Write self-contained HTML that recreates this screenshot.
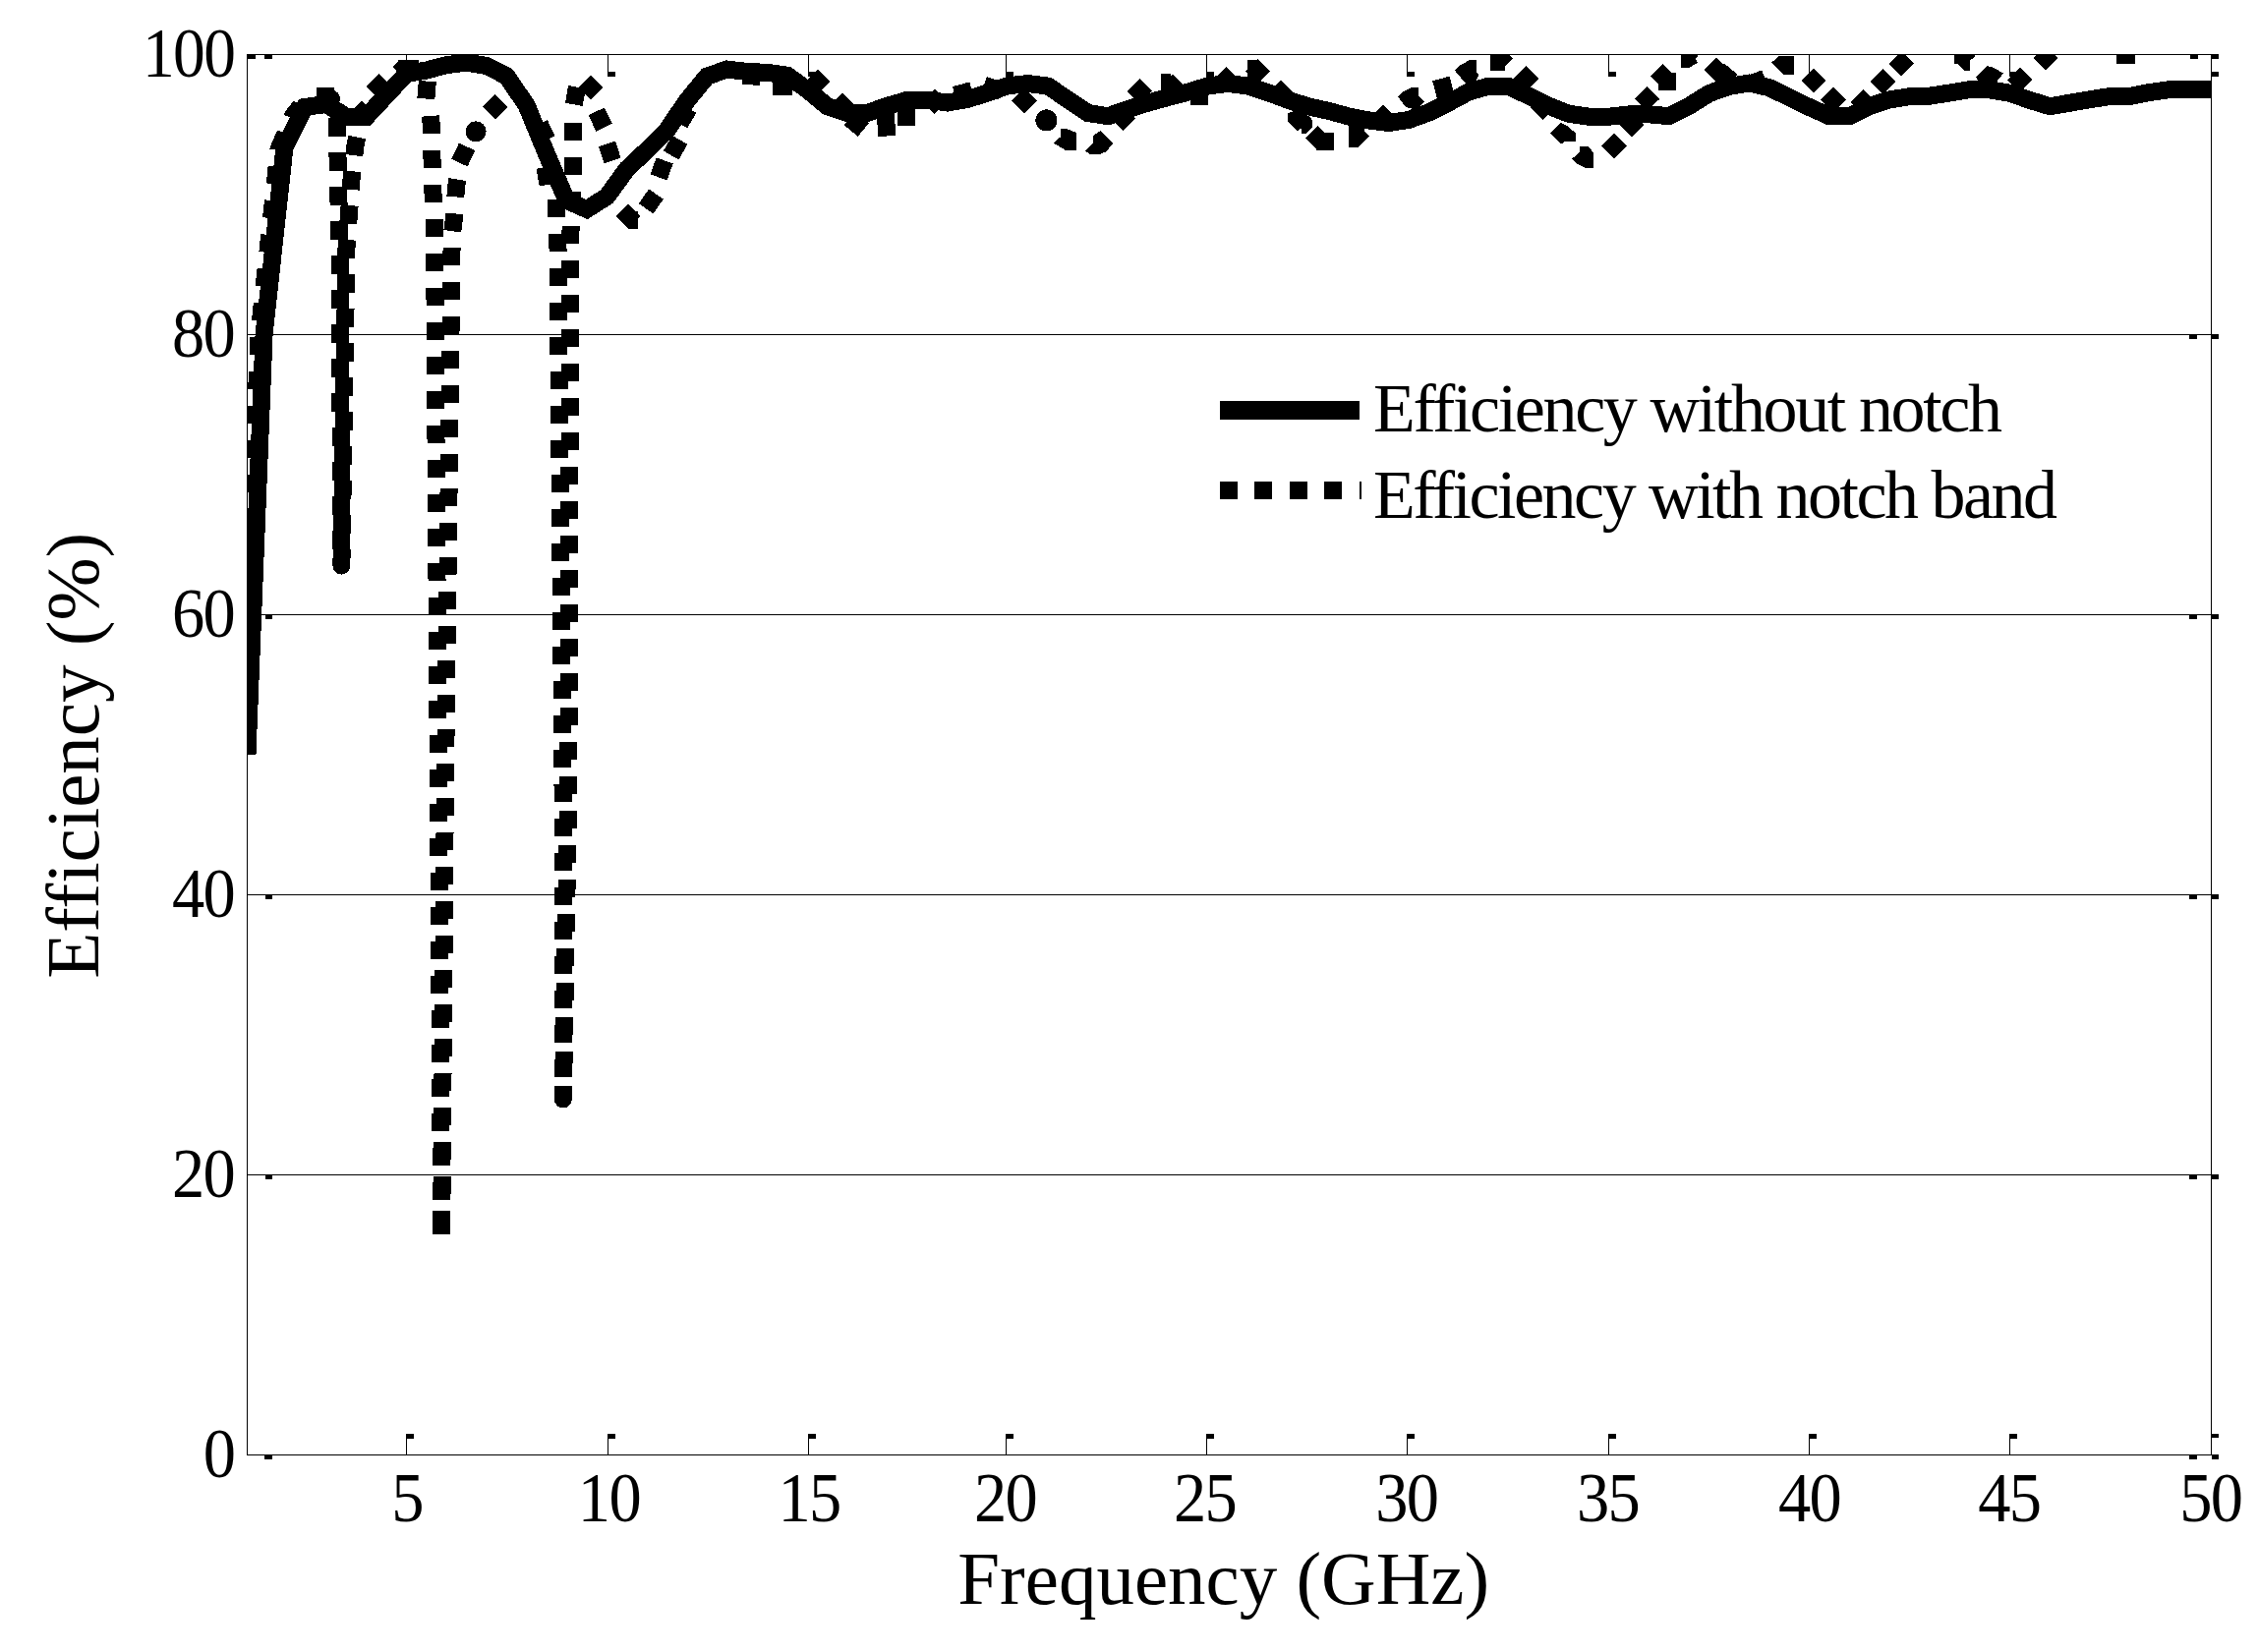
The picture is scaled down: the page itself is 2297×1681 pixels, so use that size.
<!DOCTYPE html>
<html lang="en"><head><meta charset="utf-8"><title>Efficiency vs Frequency</title>
<style>
html,body{margin:0;padding:0;background:#fff;}
body{width:2297px;height:1681px;overflow:hidden;}
svg{display:block;}
text{font-family:"Liberation Serif",serif;fill:#000;}
.tk{font-size:71.5px;letter-spacing:-1.8px;}
.ax{font-size:77px;}
.lg{font-size:70px;}
</style></head><body>
<svg width="2297" height="1681" viewBox="0 0 2297 1681">
<rect x="0" y="0" width="2297" height="1681" fill="#fff"/>
<defs><clipPath id="cp"><rect x="251.5" y="55.5" width="1998.0" height="1425.0"/></clipPath></defs>

<g stroke="#000" stroke-width="1" shape-rendering="crispEdges" fill="none">
<line x1="251.5" y1="1195.5" x2="2249.5" y2="1195.5"/>
<line x1="251.5" y1="910.5" x2="2249.5" y2="910.5"/>
<line x1="251.5" y1="625.5" x2="2249.5" y2="625.5"/>
<line x1="251.5" y1="340.5" x2="2249.5" y2="340.5"/>
</g>
<rect x="251.5" y="55.5" width="1998.0" height="1425.0" fill="none" stroke="#000" stroke-width="1" shape-rendering="crispEdges"/>
<g stroke="#000" stroke-width="1" fill="#000" shape-rendering="crispEdges">
<line x1="413.5" y1="1480.5" x2="413.5" y2="1459.5"/>
<rect x="413.0" y="1459.0" width="8" height="4.6" stroke="none"/>
<line x1="413.5" y1="55.5" x2="413.5" y2="76.5"/>
<rect x="413.0" y="72.9" width="8" height="5" stroke="none"/>
<line x1="618.5" y1="1480.5" x2="618.5" y2="1459.5"/>
<rect x="618.0" y="1459.0" width="8" height="4.6" stroke="none"/>
<line x1="618.5" y1="55.5" x2="618.5" y2="76.5"/>
<rect x="618.0" y="72.9" width="8" height="5" stroke="none"/>
<line x1="822.5" y1="1480.5" x2="822.5" y2="1459.5"/>
<rect x="822.0" y="1459.0" width="8" height="4.6" stroke="none"/>
<line x1="822.5" y1="55.5" x2="822.5" y2="76.5"/>
<rect x="822.0" y="72.9" width="8" height="5" stroke="none"/>
<line x1="1023.5" y1="1480.5" x2="1023.5" y2="1459.5"/>
<rect x="1023.0" y="1459.0" width="8" height="4.6" stroke="none"/>
<line x1="1023.5" y1="55.5" x2="1023.5" y2="76.5"/>
<rect x="1023.0" y="72.9" width="8" height="5" stroke="none"/>
<line x1="1227.5" y1="1480.5" x2="1227.5" y2="1459.5"/>
<rect x="1227.0" y="1459.0" width="8" height="4.6" stroke="none"/>
<line x1="1227.5" y1="55.5" x2="1227.5" y2="76.5"/>
<rect x="1227.0" y="72.9" width="8" height="5" stroke="none"/>
<line x1="1431.5" y1="1480.5" x2="1431.5" y2="1459.5"/>
<rect x="1431.0" y="1459.0" width="8" height="4.6" stroke="none"/>
<line x1="1431.5" y1="55.5" x2="1431.5" y2="76.5"/>
<rect x="1431.0" y="72.9" width="8" height="5" stroke="none"/>
<line x1="1636.5" y1="1480.5" x2="1636.5" y2="1459.5"/>
<rect x="1636.0" y="1459.0" width="8" height="4.6" stroke="none"/>
<line x1="1636.5" y1="55.5" x2="1636.5" y2="76.5"/>
<rect x="1636.0" y="72.9" width="8" height="5" stroke="none"/>
<line x1="1840.5" y1="1480.5" x2="1840.5" y2="1459.5"/>
<rect x="1840.0" y="1459.0" width="8" height="4.6" stroke="none"/>
<line x1="1840.5" y1="55.5" x2="1840.5" y2="76.5"/>
<rect x="1840.0" y="72.9" width="8" height="5" stroke="none"/>
<line x1="2044.5" y1="1480.5" x2="2044.5" y2="1459.5"/>
<rect x="2044.0" y="1459.0" width="8" height="4.6" stroke="none"/>
<line x1="2044.5" y1="55.5" x2="2044.5" y2="76.5"/>
<rect x="2044.0" y="72.9" width="8" height="5" stroke="none"/>
<rect x="2227.0" y="1195.5" width="8" height="4.6" stroke="none"/>
<rect x="2249.5" y="1195.0" width="7.6" height="5" stroke="none"/>
<rect x="269.5" y="1195.5" width="7.5" height="4.6" stroke="none"/>
<rect x="2227.0" y="910.5" width="8" height="4.6" stroke="none"/>
<rect x="2249.5" y="910.0" width="7.6" height="5" stroke="none"/>
<rect x="269.5" y="910.5" width="7.5" height="4.6" stroke="none"/>
<rect x="2227.0" y="625.5" width="8" height="4.6" stroke="none"/>
<rect x="2249.5" y="625.0" width="7.6" height="5" stroke="none"/>
<rect x="269.5" y="625.5" width="7.5" height="4.6" stroke="none"/>
<rect x="2227.0" y="340.5" width="8" height="4.6" stroke="none"/>
<rect x="2249.5" y="340.0" width="7.6" height="5" stroke="none"/>
<rect x="269.5" y="340.5" width="7.5" height="4.6" stroke="none"/>
<rect x="251.0" y="55.0" width="8.5" height="5" stroke="none"/>
<rect x="269.0" y="55.0" width="8" height="5" stroke="none"/>
<rect x="269.0" y="1480.5" width="8" height="4.6" stroke="none"/>
<rect x="2227.0" y="1480.5" width="8" height="4.6" stroke="none"/>
<rect x="2249.5" y="1480.0" width="7.6" height="5" stroke="none"/>
<rect x="2249.5" y="1458.5" width="7.6" height="4.6" stroke="none"/>
<rect x="2249.0" y="55.0" width="8.1" height="5" stroke="none"/>
<rect x="2249.5" y="73.0" width="7.6" height="4.8" stroke="none"/>
<rect x="2227.5" y="55.5" width="8" height="4.2" stroke="none"/>
</g>
<g clip-path="url(#cp)" fill="none" stroke="#000" shape-rendering="crispEdges">
<path d="M246.5,767.0 L263.5,340.0 L283.5,152.0 L298.0,118.0 L306.0,108.0" stroke-width="18" stroke-dasharray="18.0 17.0" stroke-dashoffset="14.12" stroke-linejoin="round"/>
<rect x="-9.0" y="-9.0" width="18.0" height="18.0" transform="translate(331.0,98.3) rotate(0)" fill="#000" stroke="none"/>
<circle cx="337.0" cy="100.5" r="9" fill="#000" stroke="none"/>
<path d="M347.4,575.6 L345.5,252.0 L343.3,150.0 L343.0,112.0" stroke-width="18" stroke-dasharray="18.8 16.2" stroke-dashoffset="18.20" stroke-linejoin="round"/>
<path d="M347.4,575.6 L352.5,252.0 L357.4,184.0 L361.5,148.0 L364.0,135.0" stroke-width="18" stroke-dasharray="18.8 16.2" stroke-dashoffset="2.17" stroke-linejoin="round"/>
<circle cx="347.4" cy="575.6" r="9" fill="#000" stroke="none"/>
<rect x="-9.0" y="-9.0" width="18.0" height="18.0" transform="translate(367.8,115.4) rotate(45)" fill="#000" stroke="none"/>
<rect x="-9.0" y="-9.0" width="18.0" height="18.0" transform="translate(385.1,87.7) rotate(45)" fill="#000" stroke="none"/>
<rect x="-10.5" y="-9.0" width="21.0" height="18.0" transform="translate(415.5,70.3) rotate(0)" fill="#000" stroke="none"/>
<rect x="-4.5" y="-4.5" width="9.0" height="9.0" transform="translate(405.5,68.0) rotate(45)" fill="#000" stroke="none"/>
<rect x="-9.0" y="-9.0" width="18.0" height="18.0" transform="translate(434.1,91.6) rotate(5)" fill="#000" stroke="none"/>
<path d="M449.2,1256.0 L446.0,800.0 L442.0,232.0 L440.5,197.0 L439.5,162.0 L438.6,126.0 L437.5,112.0" stroke-width="18" stroke-dasharray="18.0 17.0" stroke-dashoffset="34.88" stroke-linejoin="round"/>
<path d="M449.2,1256.0 L452.9,800.0 L459.7,240.0 L461.4,226.8 L464.1,190.2 L466.5,176.0" stroke-width="18" stroke-dasharray="18.0 17.0" stroke-dashoffset="29.15" stroke-linejoin="round"/>
<rect x="-9.0" y="-9.0" width="18.0" height="18.0" transform="translate(471.3,157.5) rotate(-65)" fill="#000" stroke="none"/>
<circle cx="484.1" cy="133.9" r="10.5" fill="#000" stroke="none"/>
<rect x="-9.0" y="-9.0" width="18.0" height="18.0" transform="translate(503.6,108.7) rotate(-45)" fill="#000" stroke="none"/>
<rect x="-9.0" y="-9.0" width="18.0" height="18.0" transform="translate(552.5,134.0) rotate(65)" fill="#000" stroke="none"/>
<rect x="-9.0" y="-9.0" width="18.0" height="18.0" transform="translate(556.0,179.0) rotate(80)" fill="#000" stroke="none"/>
<path d="M572.9,1118.5 L572.5,800.0 L567.4,240.0 L566.0,212.0 L565.2,195.0" stroke-width="18" stroke-dasharray="18.0 17.0" stroke-dashoffset="12.48" stroke-linejoin="round"/>
<path d="M572.9,1118.5 L578.3,800.0 L580.3,240.0 L583.0,168.4 L583.0,120.0" stroke-width="18" stroke-dasharray="18.0 17.0" stroke-dashoffset="4.35" stroke-linejoin="round"/>
<circle cx="572.9" cy="1118.5" r="9" fill="#000" stroke="none"/>
<rect x="-9.0" y="-9.0" width="18.0" height="18.0" transform="translate(585.4,97.5) rotate(-80)" fill="#000" stroke="none"/>
<rect x="-9.0" y="-9.0" width="18.0" height="18.0" transform="translate(601.2,89.0) rotate(45)" fill="#000" stroke="none"/>
<rect x="-9.0" y="-9.0" width="18.0" height="18.0" transform="translate(610.6,121.5) rotate(64)" fill="#000" stroke="none"/>
<rect x="-9.0" y="-9.0" width="18.0" height="18.0" transform="translate(620.2,154.9) rotate(72)" fill="#000" stroke="none"/>
<rect x="-9.0" y="-9.0" width="18.0" height="18.0" transform="translate(639.0,220.0) rotate(45)" fill="#000" stroke="none"/>
<rect x="-5.0" y="-9.0" width="10.0" height="18.0" transform="translate(644.0,224.0) rotate(0)" fill="#000" stroke="none"/>
<rect x="-9.0" y="-9.0" width="18.0" height="18.0" transform="translate(662.3,204.9) rotate(-55)" fill="#000" stroke="none"/>
<rect x="-9.0" y="-9.0" width="18.0" height="18.0" transform="translate(673.1,171.9) rotate(-70)" fill="#000" stroke="none"/>
<rect x="-9.0" y="-9.0" width="18.0" height="18.0" transform="translate(687.1,150.2) rotate(-60)" fill="#000" stroke="none"/>
<rect x="-9.0" y="-9.0" width="18.0" height="18.0" transform="translate(696.0,118.0) rotate(-60)" fill="#000" stroke="none"/>
<rect x="-9.0" y="-9.0" width="18.0" height="18.0" transform="translate(764.5,77.3) rotate(5)" fill="#000" stroke="none"/>
<rect x="-10.0" y="-9.0" width="20.0" height="18.0" transform="translate(796.0,87.8) rotate(0)" fill="#000" stroke="none"/>
<rect x="-9.0" y="-9.0" width="18.0" height="18.0" transform="translate(832.0,83.0) rotate(45)" fill="#000" stroke="none"/>
<rect x="-9.0" y="-9.0" width="18.0" height="18.0" transform="translate(856.9,107.5) rotate(45)" fill="#000" stroke="none"/>
<rect x="-9.0" y="-9.0" width="18.0" height="18.0" transform="translate(871.5,126.2) rotate(40)" fill="#000" stroke="none"/>
<rect x="-9.0" y="-12.0" width="18.0" height="24.0" transform="translate(901.5,126.5) rotate(-5)" fill="#000" stroke="none"/>
<rect x="-9.0" y="-9.0" width="18.0" height="18.0" transform="translate(922.3,118.6) rotate(0)" fill="#000" stroke="none"/>
<rect x="-9.0" y="-9.0" width="18.0" height="18.0" transform="translate(950.6,103.2) rotate(45)" fill="#000" stroke="none"/>
<rect x="-9.0" y="-9.0" width="18.0" height="18.0" transform="translate(980.0,94.5) rotate(-15)" fill="#000" stroke="none"/>
<rect x="-9.0" y="-9.0" width="18.0" height="18.0" transform="translate(1009.7,89.4) rotate(17)" fill="#000" stroke="none"/>
<rect x="-9.0" y="-9.0" width="18.0" height="18.0" transform="translate(1041.9,102.4) rotate(45)" fill="#000" stroke="none"/>
<rect x="-9.0" y="-9.0" width="18.0" height="18.0" transform="translate(1142.2,120.2) rotate(45)" fill="#000" stroke="none"/>
<rect x="-9.0" y="-9.0" width="18.0" height="18.0" transform="translate(1159.1,92.7) rotate(45)" fill="#000" stroke="none"/>
<rect x="-5.0" y="-9.0" width="10.0" height="18.0" transform="translate(1185.5,84.0) rotate(0)" fill="#000" stroke="none"/>
<rect x="-9.0" y="-9.0" width="18.0" height="18.0" transform="translate(1193.0,88.0) rotate(45)" fill="#000" stroke="none"/>
<rect x="-9.0" y="-9.0" width="18.0" height="18.0" transform="translate(1219.5,97.8) rotate(0)" fill="#000" stroke="none"/>
<rect x="-9.0" y="-9.0" width="18.0" height="18.0" transform="translate(1247.8,80.9) rotate(45)" fill="#000" stroke="none"/>
<rect x="-6.0" y="-9.0" width="12.0" height="18.0" transform="translate(1274.5,70.0) rotate(0)" fill="#000" stroke="none"/>
<rect x="-9.0" y="-9.0" width="18.0" height="18.0" transform="translate(1279.5,72.5) rotate(45)" fill="#000" stroke="none"/>
<rect x="-9.0" y="-9.0" width="18.0" height="18.0" transform="translate(1303.0,93.9) rotate(45)" fill="#000" stroke="none"/>
<rect x="-9.0" y="-9.0" width="18.0" height="18.0" transform="translate(1340.5,140.7) rotate(45)" fill="#000" stroke="none"/>
<rect x="-9.0" y="-9.0" width="18.0" height="18.0" transform="translate(1348.1,144.0) rotate(0)" fill="#000" stroke="none"/>
<rect x="-9.0" y="-9.0" width="18.0" height="18.0" transform="translate(1407.0,118.8) rotate(45)" fill="#000" stroke="none"/>
<rect x="-9.0" y="-9.0" width="18.0" height="18.0" transform="translate(1468.2,88.7) rotate(-15)" fill="#000" stroke="none"/>
<rect x="-9.0" y="-9.0" width="18.0" height="18.0" transform="translate(1552.4,79.9) rotate(45)" fill="#000" stroke="none"/>
<rect x="-9.0" y="-9.0" width="18.0" height="18.0" transform="translate(1569.7,109.0) rotate(45)" fill="#000" stroke="none"/>
<rect x="-9.0" y="-9.0" width="18.0" height="18.0" transform="translate(1642.0,148.7) rotate(45)" fill="#000" stroke="none"/>
<rect x="-9.0" y="-9.0" width="18.0" height="18.0" transform="translate(1659.7,126.9) rotate(45)" fill="#000" stroke="none"/>
<rect x="-9.0" y="-9.0" width="18.0" height="18.0" transform="translate(1675.7,100.6) rotate(45)" fill="#000" stroke="none"/>
<rect x="-9.0" y="-9.0" width="18.0" height="18.0" transform="translate(1691.6,77.6) rotate(45)" fill="#000" stroke="none"/>
<rect x="-9.0" y="-9.0" width="18.0" height="18.0" transform="translate(1695.9,83.4) rotate(0)" fill="#000" stroke="none"/>
<rect x="-9.0" y="-9.0" width="18.0" height="18.0" transform="translate(1746.3,71.2) rotate(45)" fill="#000" stroke="none"/>
<rect x="-9.0" y="-9.0" width="18.0" height="18.0" transform="translate(1755.0,77.0) rotate(40)" fill="#000" stroke="none"/>
<rect x="-9.0" y="-9.0" width="18.0" height="18.0" transform="translate(1787.0,83.0) rotate(-20)" fill="#000" stroke="none"/>
<rect x="-9.0" y="-9.0" width="18.0" height="18.0" transform="translate(1845.0,81.8) rotate(45)" fill="#000" stroke="none"/>
<rect x="-9.0" y="-9.0" width="18.0" height="18.0" transform="translate(1865.0,101.5) rotate(45)" fill="#000" stroke="none"/>
<rect x="-9.0" y="-9.0" width="18.0" height="18.0" transform="translate(1895.2,103.6) rotate(45)" fill="#000" stroke="none"/>
<rect x="-9.0" y="-9.0" width="18.0" height="18.0" transform="translate(1915.5,83.2) rotate(45)" fill="#000" stroke="none"/>
<rect x="-9.0" y="-9.0" width="18.0" height="18.0" transform="translate(1934.1,64.8) rotate(45)" fill="#000" stroke="none"/>
<rect x="-9.0" y="-9.0" width="18.0" height="18.0" transform="translate(2054.9,81.2) rotate(45)" fill="#000" stroke="none"/>
<rect x="-9.0" y="-9.0" width="18.0" height="18.0" transform="translate(2080.9,58.9) rotate(45)" fill="#000" stroke="none"/>
<rect x="-9.5" y="-9.0" width="19.0" height="18.0" transform="translate(2162.5,55.8) rotate(0)" fill="#000" stroke="none"/>
<circle cx="1064.4" cy="122.4" r="11" fill="#000" stroke="none"/>
<polygon points="1079.1,131.0 1085.1,131.0 1095.1,135.0 1095.1,152.9 1083.8,152.9 1071.8,145.6 1079.1,139.0" fill="#000" stroke="none"/>
<polygon points="1119.6,133.0 1132.3,146.3 1125.0,154.3 1119.6,156.9 1109.0,156.9 1103.7,153.6 1111.7,146.3 1111.7,138.3" fill="#000" stroke="none"/>
<polygon points="1310.0,115.1 1310.0,123.0 1319.9,133.0 1323.9,130.3 1323.9,135.7 1328.6,135.7 1334.5,130.3 1334.5,122.4 1333.2,119.3 1321.3,111.7" fill="#000" stroke="none"/>
<polygon points="1372.0,131.0 1372.0,150.0 1381.7,150.0 1393.0,139.0 1387.7,133.0 1387.7,126.4 1372.0,126.4" fill="#000" stroke="none"/>
<polygon points="1422.2,98.5 1427.5,93.1 1435.5,89.2 1442.8,89.2 1442.8,97.1 1448.8,103.8 1440.8,111.7 1430.2,109.1" fill="#000" stroke="none"/>
<polygon points="1480.0,71.9 1486.0,65.9 1495.3,61.0 1501.9,61.0 1501.9,73.2 1504.6,75.9 1500.6,83.8 1491.3,85.2" fill="#000" stroke="none"/>
<polygon points="1516.2,48.0 1516.2,71.9 1530.9,71.9 1530.9,67.2 1539.1,59.3 1535.2,55.5 1535.2,48.0" fill="#000" stroke="none"/>
<polygon points="1588.0,125.0 1577.3,135.7 1588.0,146.9 1592.0,143.6 1603.2,143.6 1603.2,135.7 1594.6,128.3" fill="#000" stroke="none"/>
<polygon points="1607.2,148.9 1607.2,154.3 1599.3,161.6 1603.2,166.2 1613.2,170.9 1621.2,170.9 1621.2,155.6 1615.9,149.2" fill="#000" stroke="none"/>
<polygon points="1710.2,48.0 1710.2,68.6 1718.8,68.6 1726.8,63.9 1724.8,59.9 1728.1,55.5 1728.1,48.0" fill="#000" stroke="none"/>
<polygon points="1809.8,57.0 1825.1,57.0 1825.1,75.9 1814.5,76.5 1801.9,63.9" fill="#000" stroke="none"/>
<polygon points="1987.9,48.0 1987.9,64.6 1991.5,64.6 1998.8,71.9 2003.9,71.9 2003.9,61.9 2009.1,57.3 2009.1,48.0" fill="#000" stroke="none"/>
<polygon points="2021.4,67.0 2010.1,78.5 2012.8,83.8 2030.7,83.8 2038.0,74.5 2027.4,68.6" fill="#000" stroke="none"/>
<path d="M251.5,767.5 L268.6,340.0 L289.5,150.0 L310.0,109.0 L331.8,106.0 L352.2,118.8 L372.6,118.8 L393.0,97.0 L413.4,75.0 L433.8,71.5 L454.2,66.2 L474.6,63.6 L495.0,67.0 L515.4,77.5 L535.7,107.3 L556.1,157.0 L576.5,204.0 L596.9,213.0 L617.3,200.0 L637.7,172.0 L658.1,152.8 L678.5,132.3 L698.9,102.5 L719.2,77.6 L739.6,70.5 L760.0,73.0 L780.4,73.8 L800.8,76.7 L821.2,91.4 L841.6,108.2 L862.0,115.0 L882.4,114.8 L902.8,107.8 L923.1,101.8 L943.5,101.8 L963.9,104.5 L984.3,101.0 L1004.7,94.5 L1025.1,87.3 L1045.5,85.0 L1065.9,87.5 L1086.3,101.3 L1106.7,115.0 L1127.1,118.2 L1147.4,111.2 L1167.8,104.6 L1188.2,99.0 L1208.6,93.7 L1229.0,87.3 L1249.4,85.0 L1269.8,87.6 L1290.2,94.3 L1310.6,101.8 L1331.0,108.4 L1351.3,112.8 L1371.7,118.4 L1392.1,122.4 L1412.5,125.0 L1432.9,122.0 L1453.3,114.6 L1473.7,104.5 L1494.1,93.5 L1514.5,87.6 L1534.9,87.9 L1555.2,97.7 L1575.6,107.8 L1596.0,115.8 L1616.4,118.7 L1636.8,118.7 L1657.2,116.4 L1677.6,116.3 L1698.0,118.2 L1718.4,107.8 L1738.8,95.0 L1759.1,87.8 L1779.5,84.6 L1799.9,89.2 L1820.3,99.3 L1840.7,109.1 L1861.1,118.3 L1881.5,118.4 L1901.9,108.0 L1922.3,101.4 L1942.7,98.2 L1963.0,97.7 L1983.4,94.5 L2003.8,91.1 L2024.2,91.4 L2044.6,94.8 L2065.0,102.0 L2085.4,108.2 L2105.8,104.7 L2126.2,101.2 L2146.6,98.0 L2166.9,98.0 L2187.3,93.9 L2207.7,91.1 L2228.1,91.1 L2248.5,91.1" stroke-width="18" stroke-linejoin="miter" stroke-miterlimit="6"/>
</g>
<g shape-rendering="crispEdges" stroke="#000" fill="none">
<line x1="1240.8" y1="417.8" x2="1383" y2="417.8" stroke-width="19"/>
<line x1="1240.8" y1="498.8" x2="1384.5" y2="498.8" stroke-width="17.5" stroke-dasharray="18 17.5"/>
</g>
<text class="lg" x="1397" y="439" textLength="640" lengthAdjust="spacing">Efficiency without notch</text>
<text class="lg" x="1397" y="527" textLength="696" lengthAdjust="spacing">Efficiency with notch band</text>

<text class="tk" transform="translate(414.00,1548) scale(0.93,1)" text-anchor="middle">5</text>
<text class="tk" transform="translate(619.40,1548) scale(0.93,1)" text-anchor="middle">10</text>
<text class="tk" transform="translate(823.00,1548) scale(0.93,1)" text-anchor="middle">15</text>
<text class="tk" transform="translate(1022.50,1548) scale(0.93,1)" text-anchor="middle">20</text>
<text class="tk" transform="translate(1225.50,1548) scale(0.93,1)" text-anchor="middle">25</text>
<text class="tk" transform="translate(1430.70,1548) scale(0.93,1)" text-anchor="middle">30</text>
<text class="tk" transform="translate(1635.50,1548) scale(0.93,1)" text-anchor="middle">35</text>
<text class="tk" transform="translate(1840.50,1548) scale(0.93,1)" text-anchor="middle">40</text>
<text class="tk" transform="translate(2043.70,1548) scale(0.93,1)" text-anchor="middle">45</text>
<text class="tk" transform="translate(2248.80,1548) scale(0.93,1)" text-anchor="middle">50</text>
<text class="tk" transform="translate(238.20,1502.8) scale(0.93,1)" text-anchor="end">0</text>
<text class="tk" transform="translate(238.20,1217.8) scale(0.93,1)" text-anchor="end">20</text>
<text class="tk" transform="translate(238.20,932.8) scale(0.93,1)" text-anchor="end">40</text>
<text class="tk" transform="translate(238.20,647.8) scale(0.93,1)" text-anchor="end">60</text>
<text class="tk" transform="translate(238.20,362.8) scale(0.93,1)" text-anchor="end">80</text>
<text class="tk" transform="translate(238.20,77.8) scale(0.915,1)" text-anchor="end">100</text>
<text class="ax" x="1244.7" y="1632" text-anchor="middle">Frequency (GHz)</text>
<text class="ax" transform="translate(100,768.8) rotate(-90)" text-anchor="middle">Efficiency (%)</text>

</svg></body></html>
